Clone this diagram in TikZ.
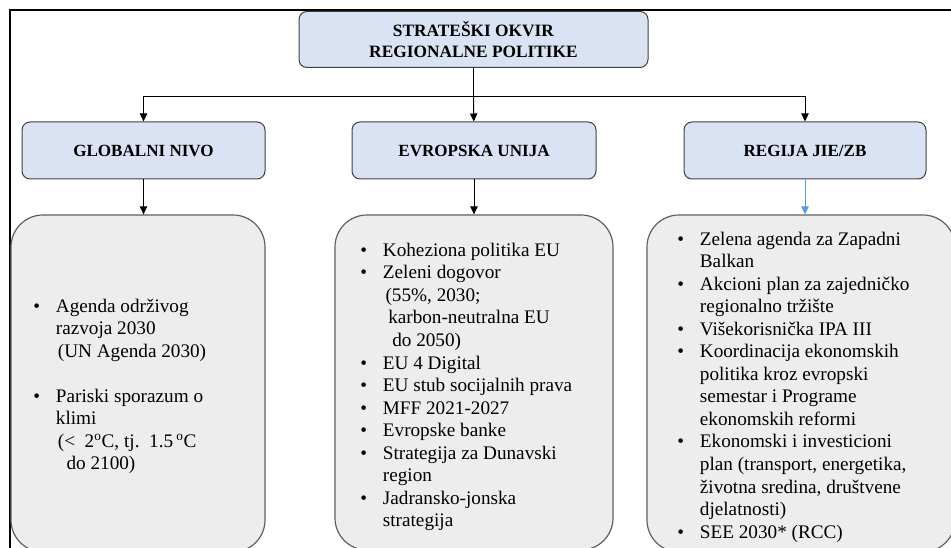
\documentclass[tikz,border=0pt]{standalone}
\usepackage{fontspec}
\setmainfont{Liberation Serif}
\usetikzlibrary{arrows.meta}
\definecolor{hdrfill}{HTML}{DAE3F3}
\definecolor{boxfill}{HTML}{EDEDED}
\definecolor{hdrbord}{HTML}{404040}
\definecolor{bord}{HTML}{606060}
\definecolor{bluearr}{HTML}{5B9BD5}
\newcommand\bul{\makebox[17pt][l]{\textbullet}}
\newcommand\ind{\hspace*{17pt}}
\begin{document}
\begin{tikzpicture}[x=0.75pt,y=-0.75pt,
  dims/.style 2 args={minimum width={#1*0.75pt}, minimum height={#2*0.75pt}},
  hdr/.style={draw=hdrbord, fill=hdrfill, rounded corners=6pt, line width=0.75pt,
    inner sep=0pt, align=center, font=\fontsize{12.8pt}{15pt}\selectfont\bfseries},
  lvl/.style={draw=bord, fill=boxfill, rounded corners=24pt, line width=0.9pt, inner sep=0pt},
  txt/.style={anchor=west, align=left, inner sep=0pt, font=\fontsize{14.4pt}{16.9pt}\selectfont},
  arr/.style={line width=0.75pt, -{Triangle[length=6pt,width=5.5pt]}},
  conn/.style={line width=0.75pt}]
\useasboundingbox (0,0) rectangle (951,548);
\clip (0,0) rectangle (951,548);
% frame
\draw[line width=1.5pt] (951,10) -- (10,10) -- (10,548);
% top
\node[hdr, dims={349}{56}, font=\fontsize{13pt}{15.3pt}\selectfont\bfseries] (top) at (473.5,39.5) {STRATEŠKI OKVIR\\REGIONALNE POLITIKE};
% level 2
\node[hdr, dims={243}{57}] (glob) at (143.5,150.5) {GLOBALNI NIVO};
\node[hdr, dims={244}{57}] (eu) at (474,150.5) {EVROPSKA UNIJA};
\node[hdr, dims={242}{57}] (reg) at (805,150.5) {REGIJA JIE/ZB};
% level 3
\node[lvl, dims={254}{337}] (b1) at (138,383.5) {};
\node[lvl, dims={278}{335}] (b2) at (474,382.5) {};
\node[lvl, dims={308}{337}] (b3) at (801,383.5) {};
% connectors
\coordinate (hub) at (473.5,97);
\draw[conn] (top) -- (hub);
\draw[arr] (hub) -| (glob);
\draw[arr] (hub) -- (eu);
\draw[arr] (hub) -| (reg);
\draw[arr] (glob.south) -- (glob.south |- b1.north);
\draw[arr] (eu.south) -- (eu.south |- b2.north);
\draw[arr, draw=bluearr, fill=bluearr] (reg.south) -- (reg.south |- b3.north);
% texts
\node[txt] (t1) at (33,386.5) {\bul Agenda održivog\\
\ind razvoja 2030\\
\ind\hspace*{1.5pt}(UN Agenda 2030)\\
\mbox{}\\
\bul Pariski sporazum o\\
\ind klimi\\
\ind\hspace*{1.5pt}(<\ \ 2\textsuperscript{o}C, tj.\ \ 1.5\,\textsuperscript{o}C\\
\ind\hspace*{8pt}do 2100)};
\node[txt] (t2) at (360,387) {\bul Koheziona politika EU\\
\bul Zeleni dogovor\\
\ind\hspace*{2pt}(55\%, 2030;\\
\ind\hspace*{4pt}karbon-neutralna EU\\
\ind\hspace*{7pt}do 2050)\\
\bul EU 4 Digital\\
\bul EU stub socijalnih prava\\
\bul MFF 2021-2027\\
\bul Evropske banke\\
\bul Strategija za Dunavski\\
\ind region\\
\bul Jadransko-jonska\\
\ind strategija};
\node[txt] (t3) at (677,387) {\bul Zelena agenda za Zapadni\\
\ind Balkan\\
\bul Akcioni plan za zajedničko\\
\ind regionalno tržište\\
\bul Višekorisnička IPA III\\
\bul Koordinacija ekonomskih\\
\ind politika kroz evropski\\
\ind semestar i Programe\\
\ind ekonomskih reformi\\
\bul Ekonomski i investicioni\\
\ind plan (transport, energetika,\\
\ind životna sredina, društvene\\
\ind djelatnosti)\\
\bul SEE 2030* (RCC)};
\end{tikzpicture}
\end{document}
